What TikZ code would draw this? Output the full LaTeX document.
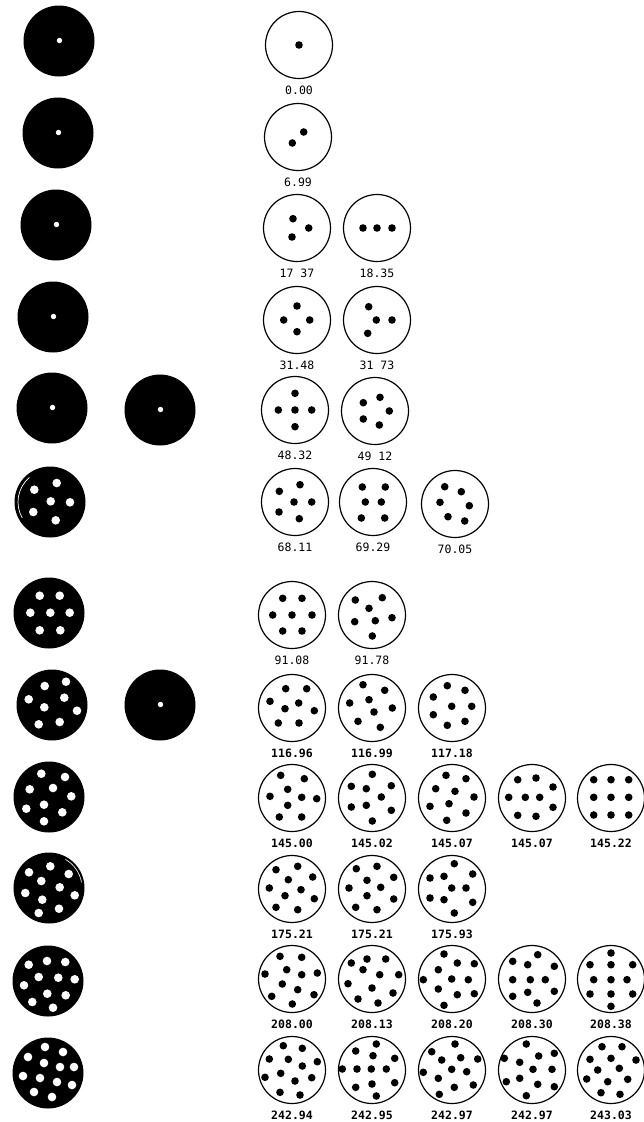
\documentclass[tikz,border=0pt]{standalone}
\usepackage{fontspec}
\newfontfamily\labfont{DejaVu Sans Mono}
\newcommand\patt[5]{%
 \begin{scope}[shift={(#1,#2)}]
  \draw[ring] (0,0) circle[radius=33.5];
  \foreach \a/\b in {#5} \fill (\a,\b) circle[radius=3.8];
  \node[#3] at (0,45) {#4};
 \end{scope}}
\newcommand\wdisk[4]{%
 \begin{scope}[shift={(#1,#2)}]
  \fill (0,0) circle[radius=35.5];
  \foreach \a/\b in {#4} \fill[white] (\a,\b) circle[radius=#3];
 \end{scope}}
\begin{document}
\begin{tikzpicture}[x=1pt,y=-1pt,
  ring/.style={draw=black,line width=1.2pt,fill=white},
  lab/.style={font=\labfont\fontsize{11.5}{12}\selectfont, inner sep=0pt},
  blab/.style={font=\labfont\bfseries\fontsize{11.5}{12}\selectfont, inner sep=0pt}]
\useasboundingbox (0,0) rectangle (644,1122);
% ---- black disks (left) ----
\wdisk{59}{41}{2.7}{0.5/-0.5}
\wdisk{58}{133}{2.7}{0.5/-0.5}
\wdisk{56}{225}{2.7}{0.5/-0.5}
\wdisk{53}{317}{2.7}{0.5/-0.5}
\wdisk{52}{408}{2.7}{0.5/-0.5}
\wdisk{160}{410}{2.7}{0.5/-0.5}
\wdisk{50}{502}{4.3}{6.7/-19,-15.7/-12.3,0.7/-0.7,20/0.3,-16.7/10,5.7/18.3}
\draw[white,line width=0.7pt] (50,502) ++(150:32) arc[start angle=150,end angle=230,radius=32];
\wdisk{49}{613}{4.3}{-9.3/-17.3,10.7/-17.3,-18.7/-0.3,1.3/-0.3,20.7/-0.3,-9.3/17.3,11.3/17.3}
\wdisk{52}{705}{4.3}{-7.3/-19,14/-23.3,-23.3/-5.7,12.3/-7.3,-7.7/2.3,25/5.7,-13.3/19.3,7.7/17}
\wdisk{160}{705}{2.7}{0.5/-0.5}
\wdisk{49}{797}{4.3}{-7.7/-23.3,16/-20,-19.3/-7.7,4/-9,22.3/-0.7,-22.7/11.7,-5/7.7,13.3/15.3,-5/24.3}
\wdisk{49}{888}{4.3}{1.3/-21.7,-20/-15.7,19.7/-14,-7.7/-7,10.7/-0.7,-23.7/5,-6.7/11.7,25.7/7.3,-10.3/25,10/20.7}
\draw[white,line width=0.6pt] (49,888) ++(-10:33) arc[start angle=-10,end angle=-60,radius=33];
\wdisk{48}{981}{4.3}{-1/-20,17.3/-19,-19.3/-16.3,-9.3/-4,10.3/-3.3,26.7/-1.7,-24/4.3,-0.7/12.7,17.7/14.3,-15.7/21,5/26.7}
\wdisk{48}{1073}{4.3}{-3/-26,15/-21,-20/-16,-4/-10,12/-6,26/-6,-25/3,-8/5,9/9,24/12,-14/19,4/24}
% ---- patterns (right) ----
\patt{299}{45}{lab}{0.00}{0/0}
\patt{298}{137}{lab}{6.99}{5.7/-5,-5.7/6}
\patt{297}{228}{lab}{17 37}{-4/-9.3,11.7/0,-5/9}
\patt{377}{228}{lab}{18.35}{-14/0,0/0,15/0}
\patt{297}{320}{lab}{31.48}{0/-14,-13.3/0,12.7/0,0/11.7}
\patt{377}{320}{lab}{31 73}{-8.3/-13.3,-0.7/0,15/0,-9.3/13.3}
\patt{295}{410}{lab}{48.32}{0/-16.7,-16.7/0,0/0,16.7/0,0/16.7}
\patt{375}{411}{lab}{49 12}{5/-13.7,-11.7/-8.3,14.3/0,-11.7/8,4.3/14}
\patt{295}{502}{lab}{68.11}{5/-17.3,-15.7/-10.7,-1/0,16.7/0,-16/10,4.3/16.7}
\patt{373}{502}{lab}{69.29}{-10.7/-15,12.3/-15,-7.7/0,8.3/0,-11.7/16,11.7/16}
\patt{455}{504}{lab}{70.05}{-10.3/-17.3,6.3/-12.3,-15/-1.7,14.3/1.7,-7/12.7,9.7/17}
\patt{292}{615}{lab}{91.08}{-9.3/-16.7,10/-16.7,-19.3/0,0/0,20/0,-9.3/16,10/16}
\patt{372}{615}{lab}{91.78}{-16.7/-15,10.3/-17.3,-3/-6.7,-17.3/6.7,3.3/5.7,20/2.7,0.3/21}
% row 8
\patt{292}{708}{blab}{116.96}{-6.3/-19.3,14.7/-19.3,-22/-6.7,6.7/-5,-7/0.7,22.3/2.7,-13.7/15,7/15}
\patt{372}{708}{blab}{116.99}{-9/-23.3,12.7/-17.7,-22.3/-5,-3/-8.3,20.3/0,2/4,-14/13.3,8.3/19.3}
\patt{452}{708}{blab}{117.18}{-4.7/-22.3,13/-17.7,-18.7/-11,-0.3/-1.7,19.7/-1.7,-18.7/6.7,-4.7/17.3,13/13.3}
% row 9
\patt{292}{798}{blab}{145.00}{-11.3/-22.7,12.3/-19.3,-4.3/-8.7,-22/-1.7,9.7/-0.7,24.7/0.7,-4.3/7.3,-12.7/19,9.7/19}
\patt{372}{798}{blab}{145.02}{0.3/-23.7,-20.7/-11.7,-5.7/-9.3,19.3/-12.3,9.3/-1,-20.7/9,-5.7/7.3,19.3/12.3,0.3/23}
\patt{452}{798}{blab}{145.07}{-6/-22.7,14/-19.3,-16.3/-9.3,3/-6.7,22/-1,-22/8.3,-3/5.7,14/15,-5.3/22.3}
\patt{532}{798}{blab}{145.07}{-14.3/-18.3,4/-20,21/-11,-23.3/-0.7,-6.7/-0.7,7.7/-0.7,21/9.3,-14.3/17.3,4/18.3}
\patt{611}{798}{blab}{145.22}{-17.3/-18.3,0/-18.3,17.7/-18.3,-17.3/-0.7,0/-0.7,17.7/-0.7,-17.3/17,0/17,17.7/17}
% row 10
\patt{292}{889}{blab}{175.21}{-16/-19.3,5.7/-22.7,20.7/-12,-3.7/-9.3,-22.7/-1,9/0.7,-7/6.7,22.3/9.7,-16/18.3,5.7/20.7}
\patt{372}{889}{blab}{175.21}{-15.7/-20.3,5/-22.7,21.7/-11.7,-5/-8.7,-23/-1,8.7/-1.7,-5/6.7,21.7/10,-16.3/18.3,5/20.7}
\patt{452}{889}{blab}{175.93}{2.3/-25.3,-22/-11,-8/-12.7,20.7/-15,-0.3/-1,14/-1,-22/9,-8/10.7,20.7/13.3,2.3/24}
% row 11
\patt{292}{979}{blab}{208.00}{-12/-22.7,9.7/-21.7,-27/-5,-5.3/-9.3,9.7/-4.3,25.3/-6,-9.7/5,5.7/10.7,22/15.7,-20.3/17.3,0.3/25}
\patt{372}{979}{blab}{208.13}{-20.7/-16,-5/-20,13.7/-20,26.7/-4.3,-9/-9.3,7.7/-4.3,-24/4.7,0/9,21/14,-14/20,6/24}
\patt{452}{979}{blab}{208.20}{-8/-25,5.3/-16,22.3/-15.3,-13.7/-9.3,-28.7/0.7,-0.3/0,16.3/0.7,-13.7/10,5.3/15.7,22.3/14.7,-8/26.3}
\patt{532}{979}{blab}{208.30}{5.7/-24.3,-19.3/-17.7,-4.3/-14.3,22.3/-12.7,-19.3/0.7,-1.7/0.7,13.3/0.7,-19.3/17.3,-4.3/13.3,22.3/12.3,5/24}
\patt{611}{979}{blab}{208.38}{0/-26,-21/-14.3,0/-14.3,21.7/-14.3,-17.3/0.7,0/0.7,16/0.7,-21/15,0/15,21.7/15,0/27.3}
% row 12
\patt{292}{1070}{blab}{242.94}{-8.7/-24.3,10.3/-21.7,-22.7/-11,-3.7/-10.7,10.3/-4,25.3/-8.3,-27/7.3,-11.3/3.3,3/11,19.7/7.7,-12/22.3,8/25}
\patt{372}{1070}{blab}{242.95}{4.3/-26,-16.3/-19,1/-14.3,22.7/-11.7,-29.7/-1,-15/-1,-0.7/-1,14.3/-1,-16.3/17.3,0/14,22.7/12.7,4.3/26}
\patt{452}{1070}{blab}{242.97}{3/-26,-20.3/-18.3,-10.3/-10,8.7/-12.3,25.7/-11,-28.7/2.3,-13.7/8.3,-0.3/-0.7,14.7/1.7,2.3/17.3,21.3/15,-12.7/24.3}
\patt{532}{1070}{blab}{242.97}{-5.7/-26,22.3/-16.7,-27.7/-11.7,-12.3/-7.7,6.7/-14,1/-0.7,20/-0.7,-25.7/11.7,-12.3/8.3,5.7/14.3,22.3/16.7,-5.7/25.7}
\patt{611}{1070}{blab}{243.03}{-9/-23.3,11/-23.3,-21/-10.7,0/-11.7,25/-10,-13.3/0,8.3/-1.7,-24.3/9,-3.3/11.7,16.7/9.3,-10/22.7,9/24.3}
\end{tikzpicture}
\end{document}
